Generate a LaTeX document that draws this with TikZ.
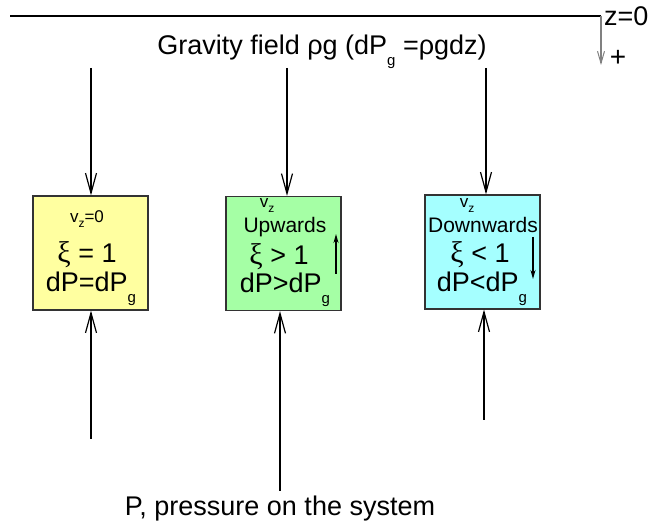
\documentclass[tikz,border=0pt]{standalone}
\usepackage{fontspec}
\setmainfont{Liberation Sans}
\newfontfamily\greekserif{Liberation Serif}
\usetikzlibrary{arrows.meta}
\definecolor{boxyellow}{RGB}{255,255,160}
\definecolor{boxgreen}{RGB}{165,255,165}
\definecolor{boxcyan}{RGB}{165,255,255}
\newcommand\fs[1]{\fontsize{#1}{#1}\selectfont}
\newcommand\subg{\raisebox{-11pt}{\fs{15}g}}
\newcommand\subz{\raisebox{-5pt}{\fs{12}z}}
\newcommand\xig{{\greekserif\fs{30}ξ}}
\begin{document}
\begin{tikzpicture}[x=1pt,y=-1pt,
  sysbox/.style={draw=black!80, line width=1.2pt, minimum width=115pt, minimum height=114pt, inner sep=0pt},
  lbl/.style={inner sep=0pt, anchor=base},
  arr/.style={line width=1.4pt, -{Straight Barb[length=20pt,width=11pt,line width=1.2pt]}},
  small/.style={line width=1.4pt, -{Stealth[length=9pt,width=5pt]}}
]
\useasboundingbox (0,0) rectangle (665,526);

% surface line and z axis
\coordinate (l0) at (10,16);
\coordinate (l1) at (601,16);
\coordinate (zt) at (601,65);
\draw[line width=1.2pt] (l0) -- (l1);
\draw[gray, line width=1.2pt, -{Straight Barb[length=12pt,width=7pt,line width=1pt]}] (l1) -- (zt);
\node[lbl, anchor=base west] (z0) at (604,26) {\fs{27}z=0};
\node[lbl] (plus) at (618,67) {\fs{28}+};

% title
\node[lbl] (grav) at (322,55) {\fs{27}Gravity field ρg (dP\subg\ =ρgdz)};

% boxes
\node[sysbox, fill=boxyellow] (b1) at (90.5,253) {};
\node[sysbox, fill=boxgreen] (b2) at (283.5,253.5) {};
\node[sysbox, fill=boxcyan] (b3) at (482.5,252) {};

% box 1 text
\node[lbl] (v1) at (87,223) {\fs{17}v\subz=0};
\node[lbl] (x1) at (87,263) {\fs{27}\xig\ = 1};
\node[lbl] (d1) at (91,292) {\fs{27}dP=dP\subg};

% box 2 text
\node[lbl] (v2) at (267,208) {\fs{17}v\subz};
\node[lbl] (u2) at (285,233) {\fs{21}Upwards};
\node[lbl] (x2) at (279,265) {\fs{27}\xig\ > 1};
\node[lbl] (d2) at (285,293) {\fs{27}dP>dP\subg};
\coordinate (ua) at (336,274);
\coordinate (ub) at (336,234);
\draw[small] (ua) -- (ub);

% box 3 text
\node[lbl] (v3) at (467,208) {\fs{17}v\subz};
\node[lbl] (w3) at (483,233) {\fs{21}Downwards};
\node[lbl] (x3) at (480,263) {\fs{27}\xig\ < 1};
\node[lbl] (d3) at (482,292) {\fs{27}dP<dP\subg};
\coordinate (da) at (533,237);
\coordinate (db) at (533,279);
\draw[small] (da) -- (db);

% top arrows
\coordinate (t1) at (91,68);
\coordinate (t2) at (287,68);
\coordinate (t3) at (486,68);
\draw[arr] (t1) -- (t1 |- b1.north);
\draw[arr] (t2) -- (t2 |- b2.north);
\draw[arr] (t3) -- (t3 |- b3.north);

% bottom arrows
\coordinate (s1) at (91,439);
\coordinate (s2) at (280,491);
\coordinate (s3) at (484,420);
\draw[arr] (s1) -- (s1 |- b1.south);
\draw[arr] (s2) -- (s2 |- b2.south);
\draw[arr] (s3) -- (s3 |- b3.south);

% bottom label
\node[lbl] (press) at (280,516) {\fs{27}P, pressure on the system};
\end{tikzpicture}
\end{document}
